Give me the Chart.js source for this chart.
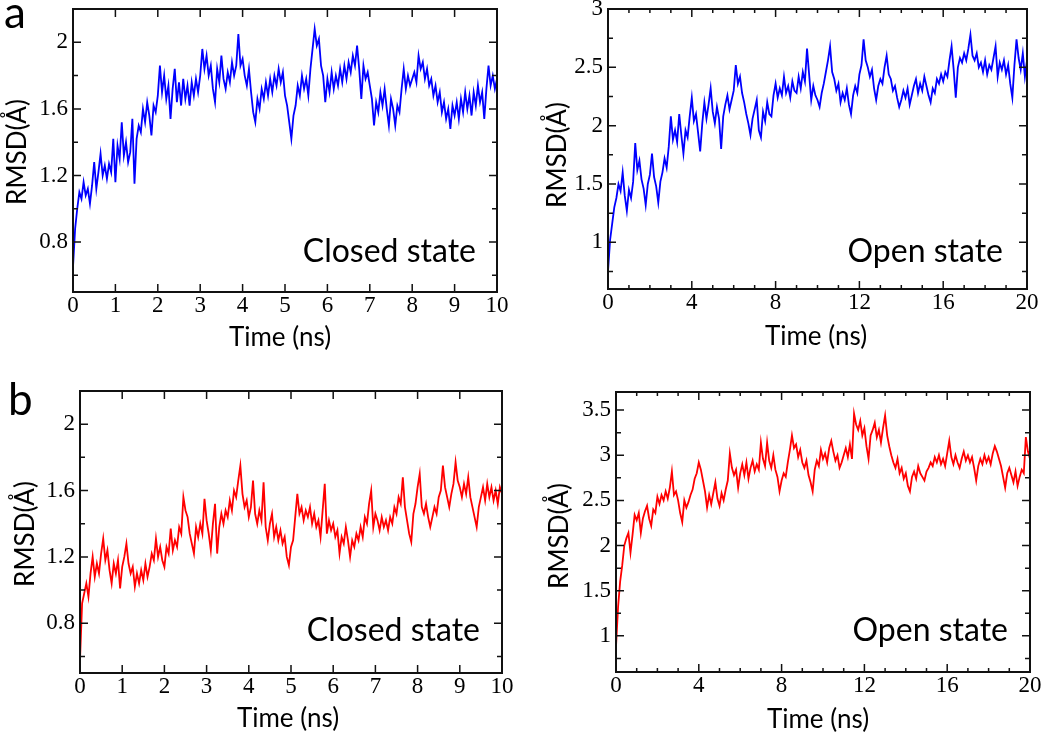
<!DOCTYPE html>
<html>
<head>
<meta charset="utf-8">
<script src="https://cdn.jsdelivr.net/npm/chart.js@4"></script>
<style>
  body { margin: 0; background: #fff; width: 1050px; height: 739px; position: relative; overflow: hidden; }
  canvas { position: absolute; }
</style>
</head>
<body>
<canvas id="closedA" width="520" height="370" style="left:0;top:0"></canvas>
<canvas id="openA" width="530" height="370" style="left:520px;top:0"></canvas>
<canvas id="closedB" width="520" height="369" style="left:0;top:370px"></canvas>
<canvas id="openB" width="530" height="369" style="left:520px;top:370px"></canvas>
<script>
const rmsdClosedA = [
  0.65,0.88,1.00,1.10,1.06,1.16,1.08,1.12,1.03,1.14,
  1.28,1.12,1.22,1.33,1.20,1.26,1.18,1.27,1.22,1.42,
  1.16,1.38,1.30,1.52,1.32,1.40,1.28,1.34,1.54,1.15,
  1.42,1.50,1.46,1.60,1.52,1.64,1.56,1.44,1.62,1.58,
  1.68,1.86,1.70,1.80,1.66,1.74,1.54,1.72,1.84,1.64,
  1.76,1.62,1.78,1.66,1.74,1.62,1.76,1.68,1.78,1.70,
  1.80,1.96,1.84,1.92,1.80,1.86,1.72,1.64,1.84,1.76,
  1.92,1.78,1.72,1.82,1.76,1.88,1.80,1.86,2.05,1.86,
  1.90,1.80,1.74,1.84,1.70,1.58,1.52,1.66,1.60,1.72,
  1.66,1.76,1.68,1.78,1.70,1.80,1.74,1.84,1.76,1.82,
  1.68,1.62,1.52,1.42,1.56,1.62,1.74,1.68,1.80,1.72,
  1.78,1.68,1.84,1.96,2.08,1.98,2.02,1.86,1.80,1.64,
  1.78,1.70,1.82,1.72,1.80,1.74,1.84,1.76,1.86,1.78,
  1.88,1.82,1.92,1.86,1.98,1.84,1.66,1.86,1.78,1.82,
  1.74,1.66,1.50,1.64,1.58,1.70,1.62,1.72,1.60,1.50,
  1.66,1.60,1.50,1.62,1.58,1.72,1.84,1.72,1.80,1.74,
  1.78,1.82,1.76,1.92,1.84,1.88,1.78,1.84,1.74,1.78,
  1.68,1.74,1.64,1.70,1.58,1.64,1.54,1.60,1.48,1.62,
  1.56,1.64,1.54,1.66,1.58,1.70,1.60,1.68,1.56,1.70,
  1.62,1.74,1.64,1.70,1.54,1.72,1.86,1.74,1.80,1.72,
  1.78
];

const rmsdOpenA = [
  0.75,1.02,1.16,1.30,1.38,1.50,1.44,1.60,1.40,1.27,
  1.45,1.38,1.52,1.85,1.62,1.70,1.54,1.46,1.32,1.50,
  1.58,1.76,1.56,1.48,1.34,1.52,1.60,1.72,1.64,1.82,
  2.08,1.88,1.96,1.86,2.10,1.92,1.76,1.96,1.90,2.08,
  2.24,2.04,2.10,1.94,1.78,2.02,2.20,2.06,2.18,2.32,
  2.12,2.02,2.16,2.06,1.80,2.08,2.18,2.26,2.14,2.22,
  2.30,2.52,2.36,2.42,2.28,2.20,2.10,2.02,1.92,2.06,
  2.14,2.22,1.96,1.90,2.12,2.04,2.20,2.10,2.08,2.26,
  2.36,2.24,2.32,2.26,2.42,2.28,2.34,2.24,2.38,2.30,
  2.28,2.42,2.32,2.46,2.38,2.66,2.44,2.22,2.34,2.26,
  2.22,2.16,2.28,2.36,2.46,2.56,2.68,2.46,2.40,2.30,
  2.36,2.20,2.28,2.22,2.32,2.18,2.10,2.26,2.34,2.28,
  2.44,2.52,2.74,2.56,2.50,2.42,2.48,2.32,2.22,2.34,
  2.40,2.36,2.50,2.60,2.44,2.40,2.30,2.34,2.24,2.16,
  2.22,2.30,2.24,2.32,2.18,2.26,2.34,2.40,2.28,2.36,
  2.30,2.42,2.34,2.26,2.20,2.32,2.28,2.40,2.36,2.44,
  2.38,2.46,2.42,2.56,2.68,2.48,2.24,2.50,2.58,2.54,
  2.62,2.56,2.66,2.78,2.60,2.56,2.62,2.50,2.54,2.46,
  2.56,2.44,2.52,2.48,2.58,2.68,2.42,2.54,2.48,2.56,
  2.44,2.52,2.36,2.24,2.52,2.74,2.58,2.48,2.62,2.42,
  2.56
];

const rmsdClosedB = [
  0.58,0.92,0.98,1.04,0.96,1.10,1.20,1.08,1.16,1.10,
  1.22,1.31,1.18,1.24,1.12,1.04,1.16,1.10,1.18,1.01,
  1.14,1.20,1.28,1.16,1.10,1.14,1.02,1.10,1.04,1.12,
  1.06,1.16,1.08,1.14,1.22,1.18,1.31,1.20,1.26,1.18,
  1.14,1.26,1.22,1.37,1.24,1.30,1.26,1.38,1.34,1.56,
  1.48,1.44,1.34,1.28,1.22,1.38,1.32,1.40,1.34,1.55,
  1.42,1.34,1.24,1.40,1.52,1.22,1.38,1.46,1.40,1.48,
  1.44,1.54,1.48,1.60,1.56,1.66,1.75,1.58,1.50,1.54,
  1.44,1.50,1.66,1.46,1.40,1.48,1.42,1.65,1.38,1.30,
  1.40,1.46,1.32,1.38,1.30,1.36,1.28,1.32,1.20,1.15,
  1.26,1.30,1.44,1.58,1.46,1.50,1.42,1.48,1.44,1.50,
  1.40,1.46,1.38,1.42,1.32,1.48,1.64,1.34,1.42,1.36,
  1.40,1.32,1.36,1.22,1.32,1.28,1.38,1.30,1.20,1.30,
  1.26,1.34,1.30,1.38,1.32,1.44,1.40,1.52,1.60,1.38,
  1.46,1.42,1.36,1.44,1.38,1.42,1.36,1.44,1.40,1.50,
  1.46,1.56,1.52,1.68,1.50,1.42,1.34,1.29,1.46,1.52,
  1.62,1.70,1.50,1.46,1.52,1.44,1.38,1.44,1.50,1.46,
  1.56,1.60,1.75,1.62,1.56,1.50,1.58,1.64,1.77,1.66,
  1.62,1.56,1.64,1.58,1.68,1.56,1.50,1.44,1.38,1.50,
  1.56,1.62,1.54,1.64,1.56,1.62,1.54,1.60,1.52,1.62,
  1.58
];

const rmsdOpenB = [
  0.88,1.32,1.60,1.78,2.00,2.08,2.14,1.92,2.12,2.34,
  2.28,2.36,2.14,2.30,2.38,2.44,2.30,2.22,2.40,2.36,
  2.54,2.46,2.56,2.50,2.60,2.52,2.64,2.82,2.56,2.60,
  2.50,2.36,2.26,2.50,2.42,2.48,2.56,2.62,2.74,2.80,
  2.92,2.84,2.72,2.60,2.42,2.56,2.46,2.58,2.70,2.52,
  2.44,2.58,2.50,2.62,2.72,3.02,2.86,2.78,2.84,2.64,
  2.80,2.90,2.78,2.92,2.74,2.86,2.94,2.82,2.90,2.84,
  3.14,2.96,2.88,3.14,2.94,2.86,3.00,2.84,2.76,2.60,
  2.72,2.80,2.76,2.92,3.06,3.22,3.08,3.12,2.98,3.06,
  2.92,2.86,2.94,2.78,2.70,2.60,2.84,2.94,2.88,3.06,
  2.96,3.02,2.92,3.08,3.16,3.04,2.94,3.00,2.86,2.92,
  3.00,3.08,2.98,3.12,2.96,3.46,3.34,3.28,3.38,3.22,
  3.30,3.10,2.96,3.22,3.28,3.36,3.20,3.28,3.14,3.30,
  3.44,3.22,3.10,3.00,2.92,2.86,2.96,2.80,2.86,2.74,
  2.80,2.66,2.60,2.76,2.82,2.74,2.88,2.80,2.76,2.72,
  2.82,2.86,2.92,2.88,2.98,2.92,3.00,2.90,2.96,2.88,
  3.02,3.16,2.98,2.90,3.00,2.92,2.86,2.96,3.04,2.94,
  3.00,2.92,2.98,2.86,2.72,2.88,2.96,2.90,3.00,2.92,
  2.98,2.90,3.02,3.10,3.04,2.96,2.88,2.76,2.64,2.80,
  2.86,2.78,2.70,2.82,2.66,2.76,2.84,2.80,3.20,3.04,
  2.96
];

// sampling grids (ns)
const closedStep = 0.05;
const openStep = 0.1;
const timeClosed = rmsdClosedA.map((_, i) => +(i * closedStep).toFixed(2));
const timeOpen = rmsdOpenA.map((_, i) => +(i * openStep).toFixed(1));

// tick values
const closedXTicks = [0, 1, 2, 3, 4, 5, 6, 7, 8, 9, 10];
const openXTicks = [0, 4, 8, 12, 16, 20];
const openXMinor = [1, 2, 3, 5, 6, 7, 9, 10, 11, 13, 14, 15, 17, 18, 19];
const closedYTicks = [0.8, 1.2, 1.6, 2];
const closedYMinor = [0.6, 1.0, 1.4, 1.8];
const openAYTicks = [1, 1.5, 2, 2.5, 3];
const openAYMinor = [0.75, 1.25, 1.75, 2.25, 2.75];
const openBYTicks = [1, 1.5, 2, 2.5, 3, 3.5];
const openBYMinor = [0.75, 1.25, 1.75, 2.25, 2.75, 3.25];

const tickFont = { family: '"Liberation Serif", "Times New Roman", serif', size: 23 };
const textFont = 'Lato, "Open Sans", sans-serif';

// frame with inward ticks + texts
function framePlugin(p) {
  return {
    id: 'frame',
    afterDraw(chart) {
      const { ctx, chartArea: a } = chart;
      const sx = chart.scales.x, sy = chart.scales.y;
      ctx.save();
      ctx.strokeStyle = '#111';
      ctx.lineWidth = 1.5;
      ctx.beginPath();
      const xMark = (v, len) => {
        const px = sx.getPixelForValue(v);
        ctx.moveTo(px, a.bottom); ctx.lineTo(px, a.bottom - len);
        ctx.moveTo(px, a.top); ctx.lineTo(px, a.top + len);
      };
      const yMark = (v, len) => {
        const py = sy.getPixelForValue(v);
        ctx.moveTo(a.left, py); ctx.lineTo(a.left + len, py);
        ctx.moveTo(a.right, py); ctx.lineTo(a.right - len, py);
      };
      p.xTicks.forEach(v => xMark(v, 8));
      (p.xMinor || []).forEach(v => xMark(v, 4));
      p.yTicks.forEach(v => yMark(v, 8));
      (p.yMinor || []).forEach(v => yMark(v, 5));
      ctx.stroke();
      ctx.lineWidth = 2;
      ctx.strokeRect(a.left, a.top, a.right - a.left, a.bottom - a.top);

      ctx.fillStyle = '#000';
      ctx.textBaseline = 'alphabetic';
      ctx.font = '26px ' + textFont;
      ctx.textAlign = 'center';
      ctx.fillText('Time (ns)', p.xTitleAt.x, p.xTitleAt.y);
      ctx.save();
      ctx.translate(p.yTitleAt.x, p.yTitleAt.y);
      ctx.rotate(-Math.PI / 2);
      ctx.fillText('RMSD(Å)', 0, 0);
      ctx.restore();

      ctx.font = '32px ' + textFont;
      ctx.textAlign = 'right';
      ctx.fillText(p.state, p.stateAt.x, p.stateAt.y);

      if (p.letter) {
        ctx.font = '44px ' + textFont;
        ctx.textAlign = 'left';
        ctx.fillText(p.letter, p.letterAt.x, p.letterAt.y);
      }
      ctx.restore();
    }
  };
}

function drawPanel(id, p) {
  const canvas = document.getElementById(id);
  const W = canvas.width, H = canvas.height;
  const points = p.times.map((t, i) => ({ x: t, y: p.values[i] }));
  return new Chart(canvas, {
    type: 'line',
    data: {
      datasets: [{
        data: points,
        borderColor: p.color,
        borderWidth: 1.8,
        pointRadius: 0,
        tension: 0,
        fill: false
      }]
    },
    options: {
      responsive: false,
      animation: false,
      events: [],
      layout: { padding: { left: 0, top: p.area.top, right: W - p.area.right, bottom: 0 } },
      plugins: { legend: { display: false }, tooltip: { enabled: false } },
      scales: {
        x: {
          type: 'linear', min: p.xMin, max: p.xMax,
          grid: { display: false, drawTicks: false },
          border: { display: false },
          afterBuildTicks: s => { s.ticks = p.xTicks.map(v => ({ value: v })); },
          afterFit: s => { s.height = H - p.area.bottom; s.paddingLeft = 0; s.paddingRight = 0; },
          ticks: { autoSkip: false, maxRotation: 0, padding: 0, color: '#000', font: tickFont, callback: v => String(v) }
        },
        y: {
          type: 'linear', min: p.yMin, max: p.yMax,
          grid: { display: false, drawTicks: false },
          border: { display: false },
          afterBuildTicks: s => { s.ticks = p.yTicks.map(v => ({ value: v })); },
          afterFit: s => { s.width = p.area.left; s.paddingTop = 0; s.paddingBottom = 0; },
          ticks: { autoSkip: false, padding: 5, color: '#000', font: tickFont, callback: v => String(v) }
        }
      }
    },
    plugins: [framePlugin(p)]
  });
}

drawPanel('closedA', {
  times: timeClosed, values: rmsdClosedA, color: '#0000ff',
  area: { left: 73, right: 497, top: 9, bottom: 292 },
  xMin: 0, xMax: 10, yMin: 0.5, yMax: 2.2,
  xTicks: closedXTicks, yTicks: closedYTicks, yMinor: closedYMinor,
  xTitleAt: { x: 280, y: 346 }, yTitleAt: { x: 26, y: 152 },
  state: 'Closed state', stateAt: { x: 476, y: 262 },
  letter: 'a', letterAt: { x: 4, y: 28 }
});

drawPanel('openA', {
  times: timeOpen, values: rmsdOpenA, color: '#0000ff',
  area: { left: 88, right: 507, top: 9, bottom: 289 },
  xMin: 0, xMax: 20, yMin: 0.6, yMax: 3,
  xTicks: openXTicks, xMinor: openXMinor, yTicks: openAYTicks, yMinor: openAYMinor,
  xTitleAt: { x: 296, y: 345 }, yTitleAt: { x: 46, y: 155 },
  state: 'Open state', stateAt: { x: 483, y: 262 }
});

drawPanel('closedB', {
  times: timeClosed, values: rmsdClosedB, color: '#ff0000',
  area: { left: 80, right: 502, top: 21, bottom: 303 },
  xMin: 0, xMax: 10, yMin: 0.5, yMax: 2.2,
  xTicks: closedXTicks, yTicks: closedYTicks, yMinor: closedYMinor,
  xTitleAt: { x: 288, y: 357 }, yTitleAt: { x: 34, y: 164 },
  state: 'Closed state', stateAt: { x: 480, y: 271 },
  letter: 'b', letterAt: { x: 8, y: 45 }
});

drawPanel('openB', {
  times: timeOpen, values: rmsdOpenB, color: '#ff0000',
  area: { left: 96, right: 510, top: 22, bottom: 302 },
  xMin: 0, xMax: 20, yMin: 0.6, yMax: 3.7,
  xTicks: openXTicks, xMinor: openXMinor, yTicks: openBYTicks, yMinor: openBYMinor,
  xTitleAt: { x: 298, y: 358 }, yTitleAt: { x: 48, y: 166 },
  state: 'Open state', stateAt: { x: 488, y: 271 }
});
</script>
</body>
</html>
